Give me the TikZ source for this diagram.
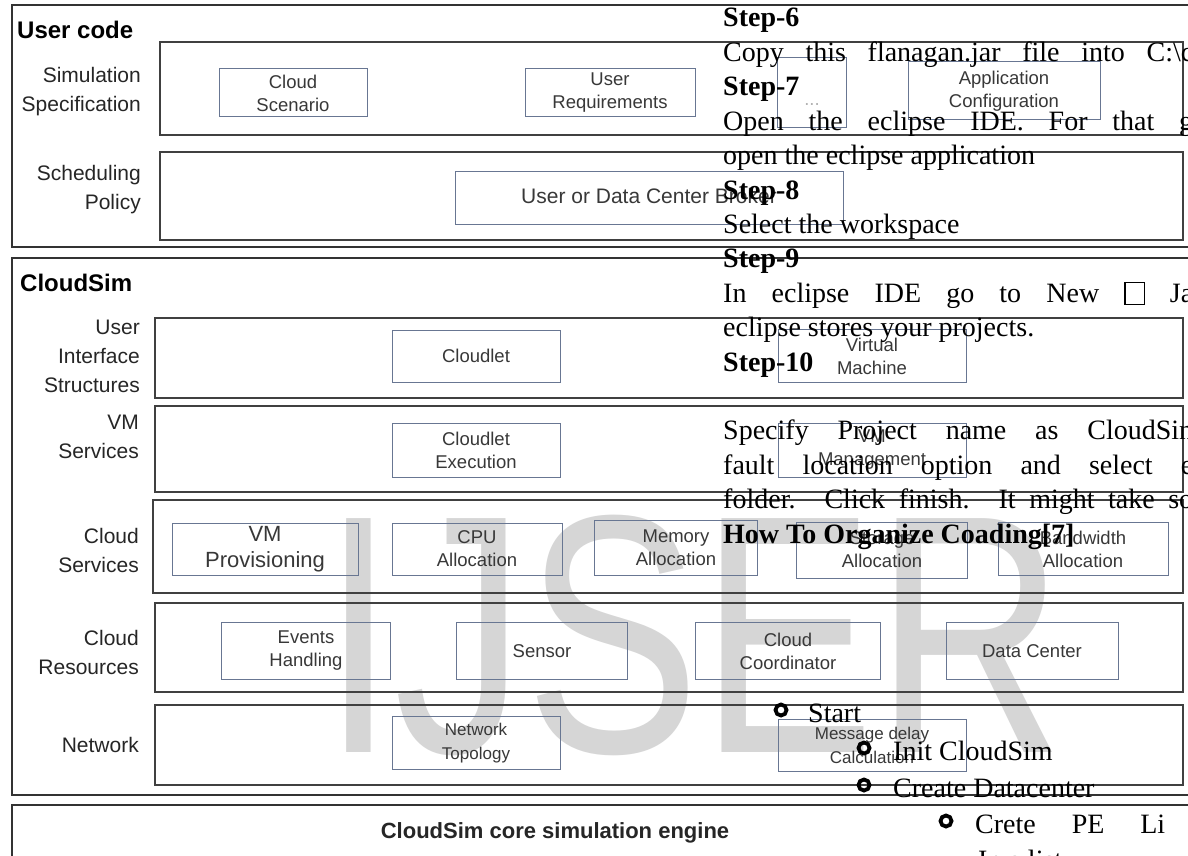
\documentclass[tikz,border=0pt]{standalone}
\usepackage{fontspec}
\setmainfont{Liberation Serif}
\setsansfont{Liberation Sans}
\definecolor{partedge}{RGB}{104,118,146}
\newcommand{\fsz}[2]{\fontsize{#1}{#2}\selectfont}
\newcommand{\emptyglyph}{\raisebox{-2pt}{\fboxsep=0pt\fboxrule=1.2pt\fbox{\rule{0pt}{21pt}\hspace{18pt}}}}
\newcommand{\justline}[1]{\makebox[470pt][s]{#1}}
\tikzset{
  layerframe/.style={draw=black!80, line width=1.6pt},
  rowframe/.style={draw=black!75, line width=1.3pt},
  partbox/.style={draw=partedge, line width=1pt, align=center, inner sep=0pt,
    text=black!78, font=\sffamily\fsz{18.5}{23}},
  rowlabel/.style={anchor=east, align=right, inner sep=0pt, text=black!85,
    font=\sffamily\fsz{21}{29}},
  layertitle/.style={anchor=west, inner sep=0pt, font=\sffamily\bfseries\fsz{24}{28}},
  pageline/.style={anchor=base west, inner sep=0pt, font=\fsz{28}{34}},
  pagehead/.style={pageline, font=\bfseries\fsz{28}{34}},
  ring/.style={circle, draw=black, line width=3.8pt, minimum size=11pt, inner sep=0pt},
}
\begin{document}
\begin{tikzpicture}[x=1pt,y=-1pt]
  \useasboundingbox[fill=white] (0,0) rectangle (1188,856);
  % Watermark
  \node[anchor=base west, inner sep=0pt, text=black!16, font=\sffamily\fsz{340}{340}]
    (mark) at (322,752) {\scalebox{0.77}[1]{IJSER}};
  % Layers
  \draw[layerframe] (12,5) rectangle (1200,247);
  \draw[layerframe] (12,258) rectangle (1200,795);
  \draw[layerframe] (12,805) rectangle (1200,880);
  \node[layertitle] (usercode) at (17,30) {User code};
  \node[layertitle] (cloudsim) at (20,283) {CloudSim};
  \node[inner sep=0pt, font=\sffamily\bfseries\fsz{22}{26}, text=black!85] (engine) at (555,833)
    {CloudSim core simulation engine};
  % Rows
  \draw[rowframe] (160,42) rectangle (1183,135);
  \draw[rowframe] (160,152) rectangle (1183,240);
  \draw[rowframe] (155,318) rectangle (1183,398);
  \draw[rowframe] (155,406) rectangle (1183,492);
  \draw[rowframe] (153,500) rectangle (1183,593);
  \draw[rowframe] (155,603) rectangle (1183,692);
  \draw[rowframe] (155,705) rectangle (1183,785);
  % Row labels
  \node[rowlabel] (simspec) at (141,92) {Simulation\\Specification};
  \node[rowlabel] (schedpol) at (141,190) {Scheduling\\Policy};
  \node[rowlabel] (uistruct) at (140,356) {User\\Interface\\Structures};
  \node[rowlabel] (vmserv) at (139,437) {VM\\Services};
  \node[rowlabel] (cloudserv) at (139,550) {Cloud\\Services};
  \node[rowlabel] (cloudres) at (139,652) {Cloud\\Resources};
  \node[rowlabel] (network) at (139,745) {Network};
  % Components
  \node[partbox, minimum width=148pt, minimum height=48pt] (scenario) at (293,93) {Cloud\\Scenario};
  \node[partbox, minimum width=170pt, minimum height=48pt] (userreq) at (610,93) {User\\Requirements};
  \node[partbox, minimum width=69pt, minimum height=70pt, text=black!30] (dots) at (812,93) {\\[2pt]...};
  \node[partbox, minimum width=192pt, minimum height=58pt] (appconf) at (1004,91) {Application\\Configuration};
  \node[partbox, minimum width=388pt, minimum height=53pt, font=\sffamily\fsz{21}{26}] (broker) at (649,198)
    {\raisebox{5pt}{User or Data Center Broker}};
  \node[partbox, minimum width=168pt, minimum height=52pt] (cloudlet) at (476,356) {Cloudlet};
  \node[partbox, minimum width=188pt, minimum height=53pt] (vmachine) at (872,356) {Virtual\\Machine};
  \node[partbox, minimum width=168pt, minimum height=54pt] (cletexec) at (476,450) {Cloudlet\\Execution};
  \node[partbox, minimum width=188pt, minimum height=54pt] (vmmanage) at (872,450) {VM\\Management};
  \node[partbox, minimum width=186pt, minimum height=52pt, font=\sffamily\fsz{22}{26}] (vmprov) at (265,549) {VM\\Provisioning};
  \node[partbox, minimum width=170pt, minimum height=52pt] (cpualloc) at (477,549) {CPU\\Allocation};
  \node[partbox, minimum width=163pt, minimum height=55pt] (memalloc) at (676,548) {Memory\\Allocation};
  \node[partbox, minimum width=171pt, minimum height=56pt] (stoalloc) at (882,550) {Storage\\Allocation};
  \node[partbox, minimum width=170pt, minimum height=53pt] (bwalloc) at (1083,549) {Bandwidth\\Allocation};
  \node[partbox, minimum width=169pt, minimum height=57pt] (events) at (306,651) {Events\\Handling};
  \node[partbox, minimum width=171pt, minimum height=57pt] (sensor) at (542,651) {Sensor};
  \node[partbox, minimum width=185pt, minimum height=57pt] (coord) at (788,651) {Cloud\\Coordinator};
  \node[partbox, minimum width=172pt, minimum height=57pt] (datacenter) at (1032,651) {Data Center};
  \node[partbox, minimum width=168pt, minimum height=53pt, font=\sffamily\fsz{17}{24}] (topology) at (476,743) {Network\\Topology};
  \node[partbox, minimum width=188pt, minimum height=52pt, font=\sffamily\fsz{17}{24}] (msgdelay) at (872,745) {Message delay\\Calculation};
  % Page text over the figure
  \node[pagehead] (step6) at (723,27) {Step-6};
  \node[pageline] (copyjar) at (723,61.4) {\justline{Copy this flanagan.jar file into C:\textbackslash c}};
  \node[pagehead] (step7) at (723,95.8) {Step-7};
  \node[pageline] (openide) at (723,130.2) {\justline{Open the eclipse IDE. For that g}};
  \node[pageline] (openapp) at (723,164.6) {open the eclipse application};
  \node[pagehead] (step8) at (723,199) {Step-8};
  \node[pageline] (workspace) at (723,233.4) {Select the workspace};
  \node[pagehead] (step9) at (723,267.8) {Step-9};
  \node[pageline] (newjava) at (723,302.2) {\justline{In eclipse IDE go to New \emptyglyph{} Ja}};
  \node[pageline] (stores) at (723,336.6) {eclipse stores your projects.};
  \node[pagehead] (step10) at (723,371) {Step-10};
  \node[pageline] (projname) at (723,439.8) {\justline{Specify Project name as CloudSin}};
  \node[pageline] (location) at (723,474.2) {\justline{fault location option and select e}};
  \node[pageline] (finish) at (723,508.6) {\justline{folder. Click finish. It might take so}};
  \node[pagehead] (howto) at (723,543) {How To Organize Coading[7]};
  % Steps list
  \node[ring] (r1) at (781,710) {};
  \node[pageline] (start) at (808,722) {Start};
  \node[ring] (r2) at (864,748) {};
  \node[pageline] (initcs) at (893,760) {Init CloudSim};
  \node[ring] (r3) at (864,785) {};
  \node[pageline] (mkdc) at (893,797) {Create Datacenter};
  \node[ring] (r4) at (946,821) {};
  \node[pageline] (mkpe) at (975,833) {\makebox[190pt][s]{Crete PE Li}};
  \node[pageline] (inlist) at (978,869) {In a list};
\end{tikzpicture}
\end{document}
